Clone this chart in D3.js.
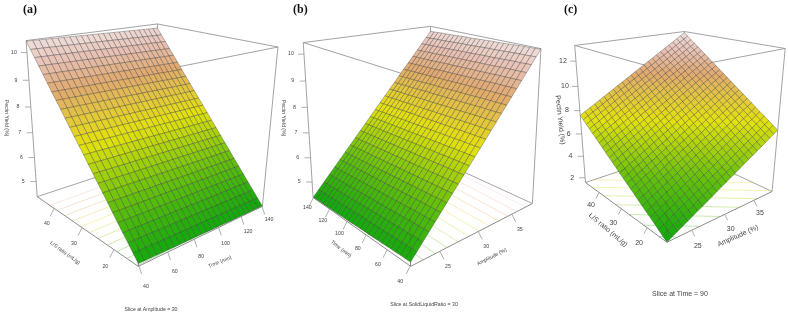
<!DOCTYPE html>
<html>
<head>
<meta charset="utf-8">
<script src="https://cdn.jsdelivr.net/npm/d3@7/dist/d3.min.js"></script>
<style>
  html, body { margin: 0; background: #fff; }
  svg { display: block; filter: blur(0.35px); }
  text { font-family: "Liberation Sans", Arial, sans-serif; fill: #444; }
  .panel-tag { font-family: "Liberation Serif", "Times New Roman", serif; font-weight: bold; fill: #111; }
</style>
</head>
<body>
<svg id="chart" width="788" height="322"></svg>
<script>
// axis ranges and ticks
const timeRange = [39.6, 140.4];
const lsRange = [13.2, 46.8];
const ampRange = [21.6, 38.4];
const yieldRangeAB = [4.35, 10.42];
const yieldRangeC = [1.55, 13.2];

const timeTicks = [40, 60, 80, 100, 120, 140];
const lsTicks = [20, 30, 40];
const ampTicks = [25, 30, 35];
const yieldTicksAB = [5, 6, 7, 8, 9, 10];
const yieldTicksC = [2, 4, 6, 8, 10, 12];

// pectin yield read along the two side edges of each surface (25 grid points)
const yieldA_time40 = [4.45,4.70,4.95,5.19,5.44,5.69,5.94,6.19,6.43,6.68,6.93,7.18,7.43,7.67,7.92,8.17,8.42,8.67,8.91,9.16,9.41,9.66,9.91,10.15,10.40];
const yieldA_time140 = [4.35,4.60,4.84,5.09,5.33,5.58,5.82,6.07,6.32,6.56,6.81,7.05,7.30,7.55,7.79,8.04,8.28,8.53,8.77,9.02,9.27,9.51,9.76,10.00,10.25];
const yieldB_ampLow = [4.50,4.49,4.49,4.48,4.48,4.47,4.46,4.46,4.45,4.44,4.44,4.43,4.43,4.42,4.41,4.41,4.40,4.39,4.39,4.38,4.38,4.37,4.36,4.36,4.35];
const yieldB_ampHigh = [10.40,10.39,10.38,10.38,10.37,10.36,10.35,10.34,10.33,10.33,10.32,10.31,10.30,10.29,10.28,10.28,10.27,10.26,10.25,10.24,10.23,10.23,10.22,10.21,10.20];
const yieldC_ampLow = [1.55,1.80,2.05,2.31,2.56,2.81,3.06,3.31,3.57,3.82,4.07,4.32,4.58,4.83,5.08,5.33,5.58,5.84,6.09,6.34,6.59,6.84,7.09,7.35,7.60];
const yieldC_ampHigh = [6.90,7.16,7.42,7.68,7.93,8.19,8.45,8.71,8.97,9.23,9.48,9.74,10.00,10.26,10.52,10.78,11.03,11.29,11.55,11.81,12.07,12.33,12.58,12.84,13.10];

const contourLevelsAB = [4.5, 5, 5.5, 6, 6.5, 7, 7.5, 8, 8.5, 9, 9.5, 10];
const contourLevelsC = [2, 3, 4, 5, 6, 7, 8, 9, 10, 11, 12, 13];

// terrain.colors, toned down a bit at the top like the figure
const terrain = d3.scaleLinear()
  .domain([0, 0.25, 0.5, 0.75, 0.88, 1])
  .range(["#00a200", "#5fbe00", "#e2e000", "#dfa568", "#e6bcae", "#eedfdc"]);

// box corners on screen, [x index, y index, z index, px, py]
const panels = [
  {
    tag: "(a)", tagPos: [23, 13],
    xRange: timeRange, yRange: lsRange, zRange: yieldRangeAB,
    xTicks: timeTicks, yTicks: lsTicks, zTicks: yieldTicksAB,
    zLow: yieldA_time40, zHigh: yieldA_time140, levels: contourLevelsAB,
    corners: [[0,0,0,137,266],[1,0,0,263,207],[0,1,0,38,197],[1,1,0,155,157],
              [0,0,1,141,74],[1,0,1,277,47],[0,1,1,25,41],[1,1,1,158,24]],
    xTickDir: [2.7, 8], xLabelNear: [7, 21], xLabelFar: [7, 13],
    yTickDir: [-4, 8], yLabelNear: [-9, 18], yLabelFar: [-7, 14],
    slice: "Slice at Amplitude = 30", slicePos: [151, 310], font: 5.2,
    titles: [["Pectin Yield (%)", 6, 118, 90], ["L/S ratio (mL/g)", 65, 253, 36], ["Time (min)", 220, 262, -22]]
  },
  {
    tag: "(b)", tagPos: [293, 13],
    xRange: ampRange, yRange: timeRange, zRange: yieldRangeAB,
    xTicks: ampTicks, yTicks: timeTicks, zTicks: yieldTicksAB,
    zLow: yieldB_ampLow, zHigh: yieldB_ampHigh, levels: contourLevelsAB,
    corners: [[0,0,0,409,266],[1,0,0,532,205],[0,1,0,313,197],[1,1,0,432,156],
              [0,0,1,412,76],[1,0,1,540,47],[0,1,1,302,43],[1,1,1,430,27]],
    xTickDir: [4, 8], xLabelNear: [8, 16], xLabelFar: [8, 15],
    yTickDir: [-4, 8], yLabelNear: [-10, 16], yLabelFar: [-6, 10],
    slice: "Slice at SolidLiquidRatio = 30", slicePos: [424, 305], font: 5.2,
    titles: [["Pectin Yield (%)", 283, 118, 90], ["Time (min)", 341, 249, 38], ["Amplitude (%)", 492, 257, -27]]
  },
  {
    tag: "(c)", tagPos: [564, 13],
    xRange: ampRange, yRange: lsRange, zRange: yieldRangeC,
    xTicks: ampTicks, yTicks: lsTicks, zTicks: yieldTicksC,
    zLow: yieldC_ampLow, zHigh: yieldC_ampHigh, levels: contourLevelsC,
    corners: [[0,0,0,667,244],[1,0,0,773,189],[0,1,0,586,181],[1,1,0,682,152],
              [0,0,1,665,72],[1,0,1,785,49],[0,1,1,575,45],[1,1,1,685,31]],
    xTickDir: [3, 6], xLabelNear: [6, 17], xLabelFar: [6, 12],
    yTickDir: [-3, 6], yLabelNear: [-8, 16], yLabelFar: [-8, 12],
    slice: "Slice at Time = 90", slicePos: [680, 294], font: 7,
    titles: [["Pectin Yield (%)", 560, 120, 84], ["L/S ratio (mL/g)", 608, 230, 40], ["Amplitude (%)", 738, 236, -24]]
  }
];

// fit a 3x4 projection to the box corners (least squares, last entry fixed to 1)
function fitProjection(corners) {
  const rows = [], rhs = [];
  for (const [X, Y, Z, u, v] of corners) {
    rows.push([X, Y, Z, 1, 0, 0, 0, 0, -u * X, -u * Y, -u * Z]); rhs.push(u);
    rows.push([0, 0, 0, 0, X, Y, Z, 1, -v * X, -v * Y, -v * Z]); rhs.push(v);
  }
  const n = 11;
  const A = d3.range(n).map((i) => d3.range(n + 1).map((j) =>
    d3.sum(rows, (r, k) => r[i] * (j < n ? r[j] : rhs[k]))));
  for (let c = 0; c < n; c++) {
    let best = c;
    for (let r = c + 1; r < n; r++) if (Math.abs(A[r][c]) > Math.abs(A[best][c])) best = r;
    [A[c], A[best]] = [A[best], A[c]];
    for (let r = 0; r < n; r++) {
      if (r === c) continue;
      const f = A[r][c] / A[c][c];
      for (let j = c; j <= n; j++) A[r][j] -= f * A[c][j];
    }
  }
  const p = A.map((r, i) => r[n] / r[i]);
  return (x, y, z) => {
    const w = p[8] * x + p[9] * y + p[10] * z + 1;
    return [(p[0] * x + p[1] * y + p[2] * z + p[3]) / w, (p[4] * x + p[5] * y + p[6] * z + p[7]) / w];
  };
}

const svg = d3.select("#chart");
const line = d3.line();

function drawPanel(cfg) {
  const g = svg.append("g");
  const project = fitProjection(cfg.corners);
  const xs = d3.scaleLinear().domain(cfg.xRange).range([0, 1]);
  const ys = d3.scaleLinear().domain(cfg.yRange).range([0, 1]);
  const zs = d3.scaleLinear().domain(cfg.zRange).range([0, 1]);

  const edge = (a, b, stroke, width) => g.append("path")
    .attr("d", line([project(...a), project(...b)]))
    .attr("fill", "none").attr("stroke", stroke).attr("stroke-width", width);

  // back of the box, then the floor contours
  edge([1, 1, 0], [0, 1, 0], "#8c8c8c", 0.8);
  edge([1, 1, 0], [1, 0, 0], "#8c8c8c", 0.8);
  edge([1, 1, 0], [1, 1, 1], "#8c8c8c", 0.8);

  const n = cfg.zLow.length - 1;
  const colour = d3.scaleLinear().domain(d3.extent([...cfg.zLow, ...cfg.zHigh])).range([0, 1]);
  const zAt = (i, j) => cfg.zLow[j] + (cfg.zHigh[j] - cfg.zLow[j]) * i / n;

  for (const level of cfg.levels) {
    // where the level crosses the outline of the surface
    const hits = [];
    for (let k = 0; k < n; k++) {
      [[0, k, 0, k + 1], [n, k, n, k + 1], [k, 0, k + 1, 0], [k, n, k + 1, n]].forEach(([i0, j0, i1, j1]) => {
        const a = zAt(i0, j0), b = zAt(i1, j1);
        if ((a - level) * (b - level) < 0) {
          const t = (level - a) / (b - a);
          hits.push([(i0 + (i1 - i0) * t) / n, (j0 + (j1 - j0) * t) / n]);
        }
      });
    }
    if (hits.length < 2) continue;
    g.append("path")
      .attr("d", line([project(hits[0][0], hits[0][1], 0), project(hits[1][0], hits[1][1], 0)]))
      .attr("fill", "none")
      .attr("stroke", terrain(colour(level)))
      .attr("stroke-opacity", 0.4)
      .attr("stroke-width", 0.8);
  }

  // top edges and the front vertical sit behind the translucent surface
  edge([0, 0, 0], [0, 0, 1], "#555", 0.7);
  edge([0, 0, 1], [1, 0, 1], "#8c8c8c", 0.8);
  edge([0, 0, 1], [0, 1, 1], "#8c8c8c", 0.8);

  // surface cells, far ones first
  const cells = [];
  for (let j = n - 1; j >= 0; j--) for (let i = n - 1; i >= 0; i--) cells.push([i, j]);
  g.selectAll("path.cell").data(cells).join("path")
    .attr("class", "cell")
    .attr("d", ([i, j]) => line([[i, j], [i + 1, j], [i + 1, j + 1], [i, j + 1]]
      .map(([a, b]) => project(a / n, b / n, zs(zAt(a, b))))) + "Z")
    .attr("fill", ([i, j]) => terrain(colour((zAt(i, j) + zAt(i + 1, j + 1)) / 2)))
    .attr("fill-opacity", 0.95)
    .attr("stroke", "#333")
    .attr("stroke-opacity", 0.55)
    .attr("stroke-width", 0.6);

  // rest of the box
  edge([0, 0, 0], [1, 0, 0], "#8c8c8c", 1);
  edge([0, 0, 0], [0, 1, 0], "#8c8c8c", 1);
  edge([0, 1, 0], [0, 1, 1], "#8c8c8c", 0.8);
  edge([1, 0, 0], [1, 0, 1], "#8c8c8c", 0.8);
  edge([0, 1, 1], [1, 1, 1], "#8c8c8c", 0.8);
  edge([1, 1, 1], [1, 0, 1], "#8c8c8c", 0.8);

  // ticks leave the front edges at a screen offset that grows towards the viewer
  const label = (t, p) => g.append("text").attr("x", p[0]).attr("y", p[1])
    .attr("text-anchor", "middle").attr("dominant-baseline", "middle")
    .attr("font-size", cfg.font).text(t);
  const tick = (p, dir, at, t) => {
    g.append("path").attr("d", line([p, [p[0] + dir[0], p[1] + dir[1]]]))
      .attr("stroke", "#8c8c8c").attr("stroke-width", 0.7);
    label(t, [p[0] + at[0], p[1] + at[1]]);
  };
  const offset = d3.interpolateArray;

  cfg.xTicks.forEach((t) => tick(project(xs(t), 0, 0), cfg.xTickDir, offset(cfg.xLabelNear, cfg.xLabelFar)(xs(t)), t));
  cfg.yTicks.forEach((t) => tick(project(0, ys(t), 0), cfg.yTickDir, offset(cfg.yLabelNear, cfg.yLabelFar)(ys(t)), t));
  cfg.zTicks.forEach((t) => tick(project(0, 1, zs(t)), [-6, 0], [-13, 0], t));

  cfg.titles.forEach(([t, x, y, angle]) => {
    g.append("text")
      .attr("transform", `translate(${x},${y}) rotate(${angle})`)
      .attr("text-anchor", "middle").attr("dominant-baseline", "middle")
      .attr("font-size", cfg.font).text(t);
  });

  g.append("text").attr("x", cfg.slicePos[0]).attr("y", cfg.slicePos[1])
    .attr("text-anchor", "middle").attr("dominant-baseline", "middle")
    .attr("font-size", cfg.font).text(cfg.slice);

  g.append("text").attr("class", "panel-tag")
    .attr("x", cfg.tagPos[0]).attr("y", cfg.tagPos[1])
    .attr("font-size", 12).text(cfg.tag);
}

panels.forEach(drawPanel);
</script>
</body>
</html>
